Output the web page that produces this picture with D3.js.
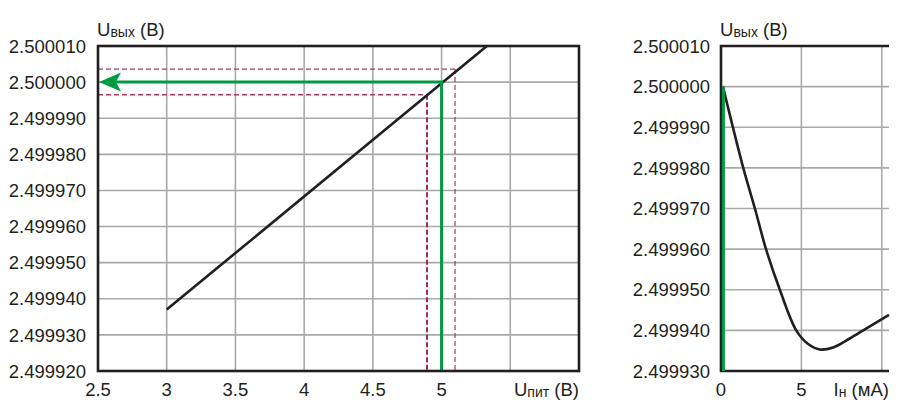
<!DOCTYPE html>
<html><head><meta charset="utf-8">
<script src="https://cdn.jsdelivr.net/npm/d3@7"></script>
<style>
html,body{margin:0;padding:0;background:#fff;}
svg text{font-family:"Liberation Sans",Arial,sans-serif;fill:#231f20;}
</style></head>
<body><svg id="c" width="904" height="415"></svg>
<script>
// ---- data ----
const leftXTicks = [2.5, 3, 3.5, 4, 4.5, 5, 5.5, 6];
const leftXTickLabels = ["2.5", "3", "3.5", "4", "4.5", "5", "", ""];
const leftYTicks = [2.49992, 2.49993, 2.49994, 2.49995, 2.49996, 2.49997, 2.49998, 2.49999, 2.5, 2.50001];
const leftYTickLabels = ["2.499920", "2.499930", "2.499940", "2.499950", "2.499960", "2.499970", "2.499980", "2.499990", "2.500000", "2.500010"];
const supplyV = [3, 5, 5.33];
const outV = [2.499937, 2.4999997, 2.50001];
const nominalSupply = 5;
const nominalOut = 2.5;
const supplyLow = 4.894, supplyHigh = 5.098;
const outLow = 2.4999965, outHigh = 2.5000036;

const rightXTicks = [0, 5, 10];
const rightXTickLabels = ["0", "5", ""];
const rightYTicks = [2.49993, 2.49994, 2.49995, 2.49996, 2.49997, 2.49998, 2.49999, 2.5, 2.50001];
const rightYTickLabels = ["2.499930", "2.499940", "2.499950", "2.499960", "2.499970", "2.499980", "2.499990", "2.500000", "2.500010"];
const loadI = [0.12, 1.385, 2.11, 2.8, 3.66, 4.68, 5.4, 6.15, 6.98, 8.01, 9.05, 10.45];
const loadOut = [2.5, 2.49998, 2.49997, 2.49996, 2.49995, 2.49994, 2.4999367, 2.4999353, 2.4999358, 2.499938, 2.4999405, 2.4999438];
const greenLoad = 0.15;

// ---- styles ----
const INK = "#231f20", GRID = "#a9a9a9", GREEN = "#009a44", RED = "#a8284a", REDL = "#b03a5a";
const svg = d3.select("#c");

// ---- left chart ----
const xL = d3.scaleLinear().domain([2.5, 6]).range([98, 579]);
const yL = d3.scaleLinear().domain([2.49992, 2.50001]).range([371, 46]);
const gL = svg.append("g");

gL.selectAll("line.gx").data(leftXTicks.slice(1, -1)).join("line")
  .attr("x1", d => xL(d)).attr("x2", d => xL(d)).attr("y1", yL.range()[1]).attr("y2", yL.range()[0])
  .attr("stroke", GRID).attr("stroke-width", 1.6);
gL.selectAll("line.gy").data(leftYTicks.slice(1, -1)).join("line")
  .attr("x1", xL.range()[0]).attr("x2", xL.range()[1]).attr("y1", d => yL(d)).attr("y2", d => yL(d))
  .attr("stroke", GRID).attr("stroke-width", 1.6);

// red dashed tolerance lines
gL.append("line").attr("x1", xL(2.5)).attr("x2", xL(supplyHigh)).attr("y1", yL(outHigh)).attr("y2", yL(outHigh))
  .attr("stroke", REDL).attr("stroke-width", 1.4).attr("stroke-dasharray", "5,3");
gL.append("line").attr("x1", xL(2.5)).attr("x2", xL(supplyLow)).attr("y1", yL(outLow)).attr("y2", yL(outLow))
  .attr("stroke", REDL).attr("stroke-width", 1.4).attr("stroke-dasharray", "5,3");
gL.append("line").attr("x1", xL(supplyHigh)).attr("x2", xL(supplyHigh)).attr("y1", yL(outHigh)).attr("y2", yL(2.49992))
  .attr("stroke", RED).attr("stroke-width", 1.1).attr("stroke-dasharray", "5,3");
gL.append("line").attr("x1", xL(supplyLow)).attr("x2", xL(supplyLow)).attr("y1", yL(outLow)).attr("y2", yL(2.49992))
  .attr("stroke", RED).attr("stroke-width", 2).attr("stroke-dasharray", "5,2.5");

// curve
gL.append("path").datum(d3.zip(supplyV, outV))
  .attr("d", d3.line().x(d => xL(d[0])).y(d => yL(d[1])))
  .attr("fill", "none").attr("stroke", INK).attr("stroke-width", 2.6);

// green arrow
const ax = xL(2.5), ay = yL(nominalOut);
gL.append("path")
  .attr("d", `M${xL(nominalSupply)},${yL(2.49992)} L${xL(nominalSupply)},${ay} L${ax + 16},${ay}`)
  .attr("fill", "none").attr("stroke", GREEN).attr("stroke-width", 3);
gL.append("path")
  .attr("d", `M${ax + 1},${ay} L${ax + 23},${ay - 9.5} L${ax + 18},${ay} L${ax + 23},${ay + 9.5} Z`)
  .attr("fill", GREEN);

// border
gL.append("rect").attr("x", xL.range()[0]).attr("y", yL.range()[1])
  .attr("width", xL.range()[1] - xL.range()[0]).attr("height", yL.range()[0] - yL.range()[1])
  .attr("fill", "none").attr("stroke", INK).attr("stroke-width", 2.6);

// ticks labels
gL.selectAll("text.yl").data(leftYTicks).join("text")
  .attr("x", 86).attr("y", d => yL(d)).attr("dy", "0.36em").attr("text-anchor", "end")
  .attr("font-size", 18.5).text((d, i) => leftYTickLabels[i]);
gL.selectAll("text.xl").data(leftXTicks).join("text")
  .attr("x", d => xL(d)).attr("y", 396).attr("text-anchor", "middle")
  .attr("font-size", 18.5).text((d, i) => leftXTickLabels[i]);

function axisTitle(g, x, y, main, sub, rest, anchor) {
  const t = g.append("text").attr("x", x).attr("y", y).attr("font-size", 18.5).attr("text-anchor", anchor);
  t.append("tspan").text(main);
  t.append("tspan").attr("font-size", 14).attr("dy", 1).text(sub);
  t.append("tspan").attr("dy", -1).text(rest);
}
axisTitle(gL, 97, 36, "U", "вых", " (В)", "start");
axisTitle(gL, 579, 396, "U", "пит", " (В)", "end");

// ---- right chart ----
const xR = d3.scaleLinear().domain([0, 10.45]).range([721, 889]);
const yR = d3.scaleLinear().domain([2.49993, 2.50001]).range([371, 46]);
const gR = svg.append("g");

gR.selectAll("line.gx").data(rightXTicks.slice(1)).join("line")
  .attr("x1", d => xR(d)).attr("x2", d => xR(d)).attr("y1", yR.range()[1]).attr("y2", yR.range()[0])
  .attr("stroke", GRID).attr("stroke-width", 1.6);
gR.selectAll("line.gy").data(rightYTicks.slice(1, -1)).join("line")
  .attr("x1", xR.range()[0]).attr("x2", xR.range()[1]).attr("y1", d => yR(d)).attr("y2", d => yR(d))
  .attr("stroke", GRID).attr("stroke-width", 1.6);

gR.append("path").datum(d3.zip(loadI, loadOut))
  .attr("d", d3.line().curve(d3.curveCatmullRom.alpha(0.5)).x(d => xR(d[0])).y(d => yR(d[1])))
  .attr("fill", "none").attr("stroke", INK).attr("stroke-width", 2.6);

// axes lines
gR.append("path")
  .attr("d", `M${xR.range()[1]},${yR.range()[1]} L${xR.range()[0]},${yR.range()[1]} L${xR.range()[0]},${yR.range()[0]} L${xR.range()[1]},${yR.range()[0]}`)
  .attr("fill", "none").attr("stroke", INK).attr("stroke-width", 2.6);

gR.append("line").attr("x1", xR(greenLoad)).attr("x2", xR(greenLoad))
  .attr("y1", yR(2.49993)).attr("y2", yR(nominalOut))
  .attr("stroke", GREEN).attr("stroke-width", 3);

gR.selectAll("text.yl").data(rightYTicks).join("text")
  .attr("x", 710).attr("y", d => yR(d)).attr("dy", "0.36em").attr("text-anchor", "end")
  .attr("font-size", 18.5).text((d, i) => rightYTickLabels[i]);
gR.selectAll("text.xl").data(rightXTicks).join("text")
  .attr("x", d => xR(d)).attr("y", 396).attr("text-anchor", "middle")
  .attr("font-size", 18.5).text((d, i) => rightXTickLabels[i]);

axisTitle(gR, 720, 36, "U", "вых", " (В)", "start");
axisTitle(gR, 889, 396, "I", "н", " (мА)", "end");
</script></body></html>
